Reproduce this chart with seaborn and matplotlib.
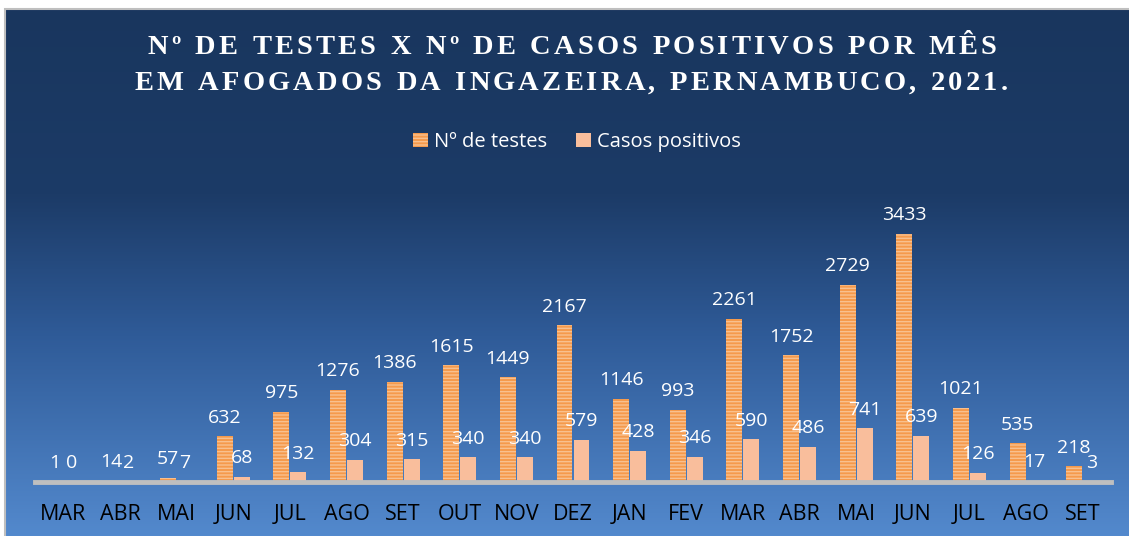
import numpy as np
import pandas as pd
import matplotlib
matplotlib.use("Agg")
import matplotlib.pyplot as plt
import seaborn as sns
from matplotlib.colors import LinearSegmentedColormap
from matplotlib.patches import Patch, Rectangle
from matplotlib.font_manager import FontProperties

# --------------------------
# Data
# --------------------------
meses = ["MAR", "ABR", "MAI", "JUN", "JUL", "AGO", "SET", "OUT", "NOV", "DEZ",
         "JAN", "FEV", "MAR", "ABR", "MAI", "JUN", "JUL", "AGO", "SET"]
testes = [1, 14, 57, 632, 975, 1276, 1386, 1615, 1449, 2167,
          1146, 993, 2261, 1752, 2729, 3433, 1021, 535, 218]
positivos = [0, 2, 7, 68, 132, 304, 315, 340, 340, 579,
             428, 346, 590, 486, 741, 639, 126, 17, 3]
series = ["Nº de testes", "Casos positivos"]
titulo = ["Nº DE TESTES X Nº DE CASOS POSITIVOS POR MÊS",
          "EM AFOGADOS DA INGAZEIRA, PERNAMBUCO, 2021."]

df = pd.DataFrame({
    "pos": list(range(len(meses))) * 2,
    "serie": [series[0]] * len(meses) + [series[1]] * len(meses),
    "valor": testes + positivos,
})

W, H = 1129, 536
sns.set_theme(style="white")
plt.rcParams["font.family"] = ["Open Sans", "DejaVu Sans"]
plt.rcParams["hatch.linewidth"] = 1.0

fig = plt.figure(figsize=(W / 100, H / 100), dpi=100)
fig.patch.set_facecolor("white")

# --------------------------
# Background gradient + border
# --------------------------
bg = fig.add_axes([6 / W, 0, 1 - 6 / W, (H - 10) / H], zorder=-5)
cmap = LinearSegmentedColormap.from_list(
    "fundo", [(0, "#19365E"), (0.35, "#1C3B67"), (0.62, "#2F5B98"), (1, "#5389CD")])
bg.imshow(np.linspace(0, 1, 256).reshape(-1, 1), aspect="auto", cmap=cmap,
          extent=[0, 1, 1, 0])
bg.set_xlim(0, 1)
bg.set_ylim(1, 0)
bg.axis("off")
fig.add_artist(Rectangle((5 / W, -0.01), 1.02, (H - 9) / H + 0.01, transform=fig.transFigure,
                         fill=False, edgecolor="#BFBFBF", linewidth=1.5, zorder=-4))

# --------------------------
# Bars
# --------------------------
ax = fig.add_axes([35 / W, (H - 482) / H, 1076 / W, (482 - 170) / H])
ax.set_facecolor("none")
cores = ["#F59A4C", "#F9BE9C"]
sns.barplot(data=df, x="pos", y="valor", hue="serie", hue_order=series,
            palette=cores, width=0.6, gap=0.06, saturation=1, legend=False,
            linewidth=0, ax=ax)

hatch_cols = ["#F8C08E", "#F6B08E"]
for cont, hc, hh in zip(ax.containers, hatch_cols, ["-----", ""]):
    for bar in cont:
        bar.set_hatch(hh)
        bar.set_edgecolor(hc)
        bar.set_linewidth(0)
    ax.bar_label(cont, labels=[str(int(v)) for v in cont.datavalues],
                 padding=7, color="white", fontsize=14)

ax.set_xlim(-0.5, len(meses) - 0.5)
ax.set_ylim(0, 4315)
ax.set_yticks([])
ax.set_xticks(range(len(meses)))
ax.set_xticklabels(meses, fontsize=15.5, color="black")
ax.tick_params(axis="x", length=0, pad=16)
ax.set_xlabel("")
ax.set_ylabel("")
for s in ["top", "left", "right"]:
    ax.spines[s].set_visible(False)
ax.spines["bottom"].set_color("#BFBFBF")
ax.spines["bottom"].set_linewidth(3.5)

# --------------------------
# Legend
# --------------------------
handles = [Patch(facecolor=cores[0], edgecolor=hatch_cols[0], hatch="-----", linewidth=0),
           Patch(facecolor=cores[1], edgecolor=hatch_cols[1], linewidth=0)]
fig.legend(handles, series, loc="center", bbox_to_anchor=(577 / W, 1 - 142 / H),
           ncol=2, frameon=False, fontsize=14.5, labelcolor="white",
           handlelength=0.75, handleheight=0.75, handletextpad=0.3, columnspacing=1.4)

# --------------------------
# Title with letter spacing
# --------------------------
fp = FontProperties(family="Liberation Serif", weight="bold", size=20.5)
renderer = fig.canvas.get_renderer()
tracking = 3.2


def titulo_espacado(texto, cx, cy):
    larguras = []
    for ch in texto:
        if ch == " ":
            larguras.append(8)
        else:
            w, h, d = renderer.get_text_width_height_descent(ch, fp, ismath=False)
            larguras.append(w)
    total = sum(larguras) + tracking * (len(texto) - 1)
    x = cx - total / 2
    for ch, w in zip(texto, larguras):
        if ch != " ":
            fig.text(x / W, 1 - cy / H, ch, fontproperties=fp, color="white",
                     ha="left", va="center")
        x += w + tracking


titulo_espacado(titulo[0], 572, 48)
titulo_espacado(titulo[1], 571, 83)

fig.savefig("out.png", dpi=100)
